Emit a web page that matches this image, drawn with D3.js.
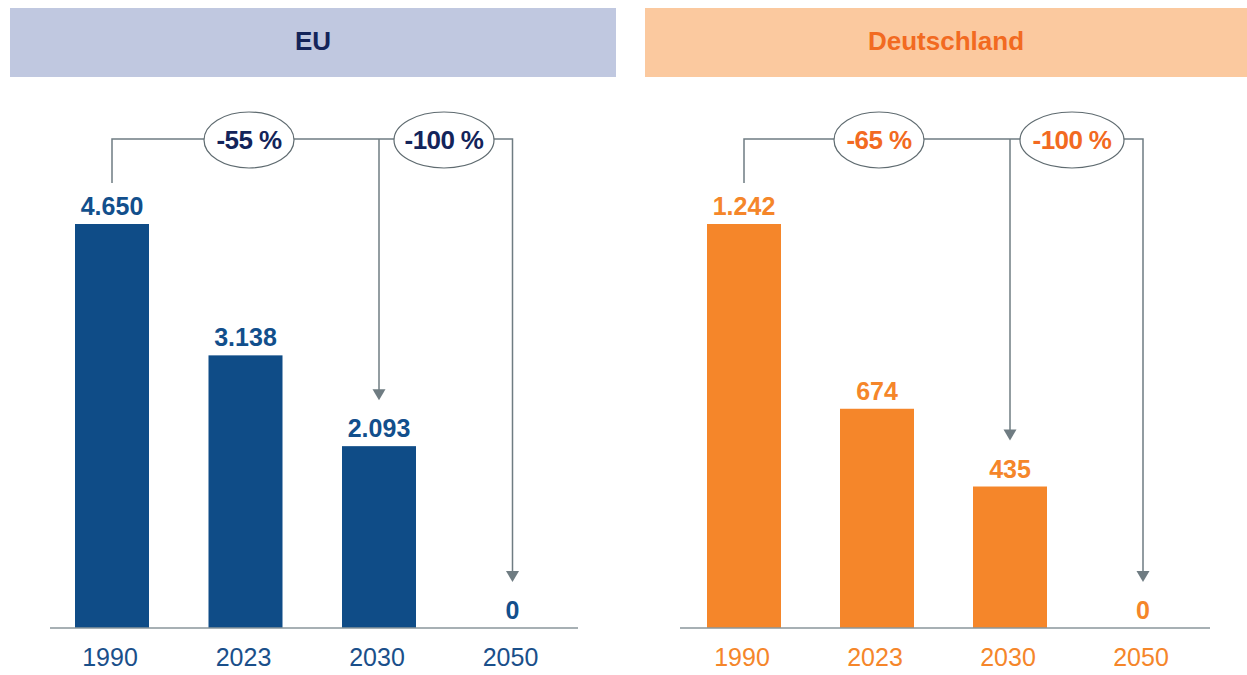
<!DOCTYPE html>
<html>
<head>
<meta charset="utf-8">
<script src="https://cdn.jsdelivr.net/npm/d3@7"></script>
<style>
  body { margin: 0; background: #fff; font-family: Arial, "Liberation Sans", sans-serif; }
</style>
</head>
<body>
<div id="chart"></div>
<script>
// Daten
const years = ['1990', '2023', '2030', '2050'];
const euValues = [4650, 3138, 2093, 0];
const deValues = [1242, 674, 435, 0];
const euChanges = ['-55 %', '-100 %'];
const deChanges = ['-65 %', '-100 %'];

const W = 1247, H = 675;
const svg = d3.select('#chart').append('svg')
    .attr('width', W)
    .attr('height', H);

const fmt = d3.formatLocale({ decimal: ',', thousands: '.', grouping: [3], currency: ['', '€'] }).format(',.0f');

function drawPanel(cfg) {
    // Kopfzeile
    svg.append('rect')
        .attr('x', cfg.header[0]).attr('y', 8)
        .attr('width', cfg.header[1] - cfg.header[0]).attr('height', 69)
        .style('fill', cfg.headerFill);
    svg.append('text')
        .attr('x', (cfg.header[0] + cfg.header[1]) / 2).attr('y', 50)
        .attr('text-anchor', 'middle')
        .style('font-size', '26px').style('font-weight', 'bold')
        .style('fill', cfg.titleColor)
        .text(cfg.title);

    // Bandbreite 74px, Schritt cfg.step
    const pad = 1 - 74 / cfg.step;
    const x = d3.scaleBand()
        .domain(years)
        .range([cfg.start, cfg.start + cfg.step * (years.length - pad)])
        .paddingInner(pad)
        .paddingOuter(0);
    const y = d3.scaleLinear()
        .domain([0, cfg.values[0]])
        .range([628, 224]);

    const data = years.map((yr, i) => ({ year: yr, value: cfg.values[i] }));
    const cx = d => x(d) + x.bandwidth() / 2;

    const g = svg.append('g');

    g.selectAll('.bar')
        .data(data.filter(d => d.value > 0))
        .enter().append('rect')
        .attr('x', d => x(d.year))
        .attr('y', d => y(d.value))
        .attr('width', x.bandwidth())
        .attr('height', d => y(0) - y(d.value))
        .style('fill', cfg.barColor);

    g.selectAll('.val')
        .data(data)
        .enter().append('text')
        .attr('x', d => cx(d.year))
        .attr('y', d => y(d.value) - 9)
        .attr('text-anchor', 'middle')
        .style('font-size', '25px').style('font-weight', 'bold')
        .style('fill', cfg.labelColor)
        .text(d => fmt(d.value));

    // Achse
    const axis = g.append('g')
        .attr('transform', 'translate(0,628)')
        .call(d3.axisBottom(x).tickSize(0).tickPadding(20));
    axis.select('.domain')
        .attr('d', `M${cfg.axis[0]},0H${cfg.axis[1]}`)
        .style('stroke', '#8a969b').style('stroke-width', 1.5);
    axis.selectAll('text')
        .attr('dx', -2)
        .style('font-size', '25px')
        .style('font-family', 'Arial, "Liberation Sans", sans-serif')
        .style('fill', cfg.tickColor);

    // Klammern und Pfeile
    const lineY = 139;
    const grey = '#6f7c82';
    const x0 = cx('1990'), x2 = cx('2030'), x3 = cx('2050');
    const arrowGap = 46;

    g.append('path')
        .attr('d', `M${x0},${y(cfg.values[0]) - 41}V${lineY}H${x3}V${y(0) - arrowGap - 8}`)
        .style('fill', 'none').style('stroke', grey).style('stroke-width', 1.5);
    g.append('path')
        .attr('d', `M${x2},${lineY}V${y(cfg.values[2]) - arrowGap - 8}`)
        .style('fill', 'none').style('stroke', grey).style('stroke-width', 1.5);

    [[x2, y(cfg.values[2]) - arrowGap], [x3, y(0) - arrowGap]].forEach(([ax, ay]) => {
        g.append('path')
            .attr('d', `M${ax - 6.5},${ay - 11}L${ax + 6.5},${ay - 11}L${ax},${ay}Z`)
            .style('fill', grey);
    });

    cfg.ellipses.forEach((e, i) => {
        g.append('ellipse')
            .attr('cx', e[0]).attr('cy', 140)
            .attr('rx', e[1]).attr('ry', 28)
            .style('fill', '#fff').style('stroke', '#5f6b70').style('stroke-width', 1.2);
        g.append('text')
            .attr('x', e[0]).attr('y', 149)
            .attr('text-anchor', 'middle')
            .style('font-size', '26px').style('font-weight', 'bold')
            .style('letter-spacing', '-0.6px')
            .style('fill', cfg.changeColor)
            .text(cfg.changes[i]);
    });
}

drawPanel({
    title: 'EU',
    header: [10, 616],
    headerFill: '#c0c8e0',
    titleColor: '#13245a',
    start: 75,
    step: 133.5,
    axis: [50, 578],
    values: euValues,
    changes: euChanges,
    ellipses: [[249, 45], [444, 50]],
    barColor: '#0f4c87',
    labelColor: '#124f8c',
    tickColor: '#1a4f8a',
    changeColor: '#13245a'
});

drawPanel({
    title: 'Deutschland',
    header: [645, 1247],
    headerFill: '#fbc99f',
    titleColor: '#f26a21',
    start: 707,
    step: 133,
    axis: [680, 1210],
    values: deValues,
    changes: deChanges,
    ellipses: [[879, 45], [1072, 52]],
    barColor: '#f5862a',
    labelColor: '#f5862a',
    tickColor: '#f5862a',
    changeColor: '#f26a21'
});
</script>
</body>
</html>
